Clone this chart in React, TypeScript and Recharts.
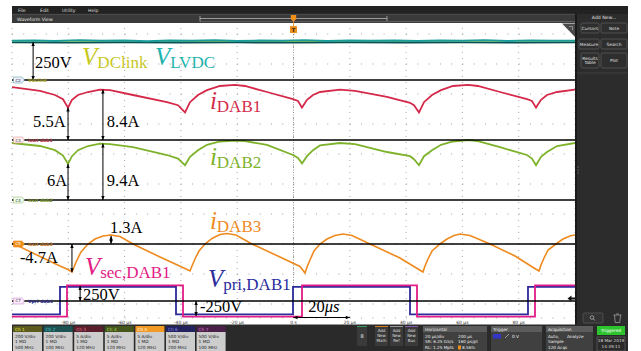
import React from 'react';
import { ComposedChart, Line, XAxis, YAxis, CartesianGrid, ReferenceLine, ReferenceDot } from 'recharts';

// ---------------- data (time in µs, values in channel units) ----------------
const TIME_TICKS = [-80, -60, -40, -20, 0, 20, 40, 60, 80];
const TIME_LABELS: Record<number, string> = {
  [-80]: '-80 µs', [-60]: '-60 µs', [-40]: '-40 µs', [-20]: '-20 µs', 0: '0 s',
  20: '20 µs', 40: '40 µs', 60: '60 µs', 80: '80 µs',
};
const I3_TICKS = [-10, -5, 0, 5, 10, 15, 20, 25, 30, 35];

const vLvdc: [number, number][] = [
  [-100, 262], [-92, 264], [-85, 260], [-76, 265], [-68, 261], [-60, 263], [-52, 259], [-44, 264],
  [-36, 261], [-28, 265], [-20, 260], [-12, 263], [-4, 261], [4, 265], [12, 260], [20, 263],
  [28, 261], [36, 264], [44, 260], [52, 263], [60, 261], [68, 265], [76, 260], [84, 263], [92, 261], [100, 262],
];
const vLvdcLow: [number, number][] = [
  [-100, 250], [-80, 248], [-60, 251], [-40, 249], [-20, 250], [0, 248], [20, 251], [40, 249], [60, 250], [80, 248], [100, 250],
];
const vDclink: [number, number][] = [
  [-100, 255], [-50, 254], [0, 256], [50, 254], [100, 255],
];

const iDab1: [number, number][] = [
  [-100, 8.8], [-90.05, 8.2], [-84.72, 7.5], [-81.88, 6.8], [-80.11, 5.4], [-78.69, 6.7], [-76.55, 7.5],
  [-73.0, 8.0], [-68.74, 8.4], [-65.19, 8.3], [-57.02, 7.5], [-44.94, 6.3], [-41.03, 5.8], [-38.54, 4.6],
  [-36.77, 6.3], [-33.93, 7.5], [-30.73, 8.3], [-26.11, 9.0], [-20.78, 9.2], [-17.23, 9.0], [-9.41, 8.0],
  [-0.18, 6.8], [1.6, 6.5], [3.02, 5.4], [4.8, 6.7], [6.93, 7.5], [9.41, 8.0], [16.52, 8.4], [21.85, 8.2],
  [33.21, 7.2], [41.39, 6.2], [42.81, 5.8], [44.58, 4.6], [46.36, 6.3], [49.2, 7.5], [52.4, 8.3],
  [56.66, 9.0], [62.0, 9.2], [65.5, 9.0], [73.36, 8.0], [82.95, 6.8], [84.72, 6.5], [86.15, 5.4],
  [87.92, 6.7], [90.05, 7.5], [93.61, 8.0], [100, 8.4],
];

const iDab2: [number, number][] = [
  [-100, 9.5], [-90.05, 9.0], [-84.72, 8.3], [-81.88, 7.4], [-80.11, 6.0], [-78.69, 7.3], [-76.55, 8.3],
  [-73.0, 9.0], [-68.74, 9.4], [-65.19, 9.3], [-57.02, 8.8], [-44.94, 7.5], [-41.03, 6.9], [-38.54, 5.8],
  [-36.77, 7.2], [-33.93, 8.3], [-30.73, 9.2], [-26.11, 9.75], [-20.78, 9.9], [-17.23, 9.8], [-9.41, 9.2],
  [-0.18, 7.5], [1.6, 7.0], [3.02, 6.1], [4.8, 7.3], [6.93, 8.3], [9.41, 9.1], [16.52, 9.5], [21.85, 9.3],
  [33.21, 8.0], [41.39, 7.3], [42.81, 6.8], [44.58, 5.8], [46.36, 7.3], [49.2, 8.3], [52.4, 9.2],
  [56.66, 9.75], [62.0, 10.0], [65.5, 9.8], [73.36, 8.8], [82.95, 7.5], [84.72, 6.9], [86.15, 5.8],
  [87.92, 7.2], [90.05, 8.0], [93.61, 9.0], [100, 9.5],
];

const iDab3: [number, number][] = [
  [-100, 0.17], [-90.05, -2.08], [-82.95, -3.67], [-80.11, -4.25], [-78.69, -4.67], [-77.98, -3.83],
  [-76.91, -2.67], [-75.49, -1.33], [-73.0, 0], [-70.52, 0.83], [-67.67, 1.33], [-64.83, 1.5], [-61.63, 1.25],
  [-57.02, 0], [-47.42, -2.17], [-38.54, -4.08], [-36.77, -4.5], [-36.06, -3.67], [-35.0, -2.5], [-33.57, -1.17],
  [-31.44, 0], [-28.95, 0.92], [-26.11, 1.58], [-23.62, 1.75], [-20.43, 1.5], [-14.74, 0], [-4.8, -2.17],
  [2.31, -3.75], [4.09, -4.83], [4.8, -3.83], [5.86, -2.67], [7.28, -1.17], [9.41, 0], [11.9, 0.83],
  [14.74, 1.42], [17.58, 1.67], [20.78, 1.42], [27.18, 0], [37.83, -2.33], [44.23, -4.17], [46.0, -4.67],
  [46.71, -3.67], [47.78, -2.5], [49.2, -1.17], [52.04, 0], [54.53, 0.83], [57.02, 1.42], [59.15, 1.67],
  [62.7, 1.42], [69.8, 0], [78.69, -2.0], [85.44, -4.0], [87.21, -4.5], [87.92, -3.5], [88.99, -2.33],
  [90.41, -1.0], [93.25, 0], [95.74, 0.83], [98.22, 1.33], [100, 1.5],
];

const vPri: [number, number][] = [
  [-100, -222], [-82.95, -222], [-82.95, 236], [-41.74, 236], [-41.74, -222], [-0.18, -222], [-0.18, 236],
  [41.39, 236], [41.39, -222], [83.3, -222], [83.3, 236], [100, 236],
];
const vSec: [number, number][] = [
  [-100, -262], [-80.46, -262], [-80.46, 262], [-39.25, 262], [-39.25, -262], [3.02, -262], [3.02, 262],
  [43.87, 262], [43.87, -262], [85.79, -262], [85.79, 262], [100, 262],
];

// annotation arrows (t, from, to on channel axis)
const ARROWS = [
  { ax: 'dc', t: -92.5, from: 0, to: 253 },
  { ax: 'i1', t: -80.1, from: 0, to: 5.4 },
  { ax: 'i1', t: -67.7, from: 0, to: 8.4 },
  { ax: 'i2', t: -80.1, from: 0, to: 6.0 },
  { ax: 'i2', t: -67.7, from: 0, to: 9.4 },
  { ax: 'i3', t: -64.8, from: 0, to: 1.35 },
  { ax: 'i3', t: -78.7, from: 0, to: -4.7 },
  { ax: 'v', t: -75.8, from: 0, to: 250 },
  { ax: 'v', t: -34.6, from: 0, to: -250 },
];
const TIME_ARROW = { ax: 'v', level: -275, from: 0, to: 20 };

const LABELS = [
  { ax: 'dc', t: -91.8, y: 80, text: '250V' },
  { ax: 'dc', t: -75.1, y: 100, italic: 'V', sub: 'DClink', color: '#c8c81e' },
  { ax: 'dc', t: -49.2, y: 100, italic: 'V', sub: 'LVDC', color: '#22b3ae' },
  { ax: 'i1', t: -29.7, y: 5.17, italic: 'i', sub: 'DAB1', color: '#d5294a' },
  { ax: 'i1', t: -92.5, y: 2.17, text: '5.5A' },
  { ax: 'i1', t: -66.3, y: 2.17, text: '8.4A' },
  { ax: 'i2', t: -29.7, y: 5.83, italic: 'i', sub: 'DAB2', color: '#7db22a' },
  { ax: 'i2', t: -87.6, y: 2.33, text: '6A' },
  { ax: 'i2', t: -66.3, y: 2.33, text: '9.4A' },
  { ax: 'i3', t: -65.2, y: 1.83, text: '1.3A' },
  { ax: 'i3', t: -97.2, y: -3.17, text: '-4.7A' },
  { ax: 'i3', t: -29.7, y: 2.5, italic: 'i', sub: 'DAB3', color: '#ee8a1e' },
  { ax: 'v', t: -74.1, y: 433, italic: 'V', sub: 'sec,DAB1', color: '#e31c86' },
  { ax: 'v', t: -30.4, y: 233, italic: 'V', sub: 'pri,DAB1', color: '#2b2b9e' },
  { ax: 'v', t: -74.8, y: 17, text: '250V' },
  { ax: 'v', t: -33.2, y: -183, text: '-250V' },
  { ax: 'v', t: 5.2, y: -183, text: '20', tail: 'μs' },
];

// channel vertical setup: zero position (divisions from top) and units/div
const CHANNELS: Record<string, { pos: number; perDiv: number }> = {
  dc: { pos: 2.0667, perDiv: 200 },
  i1: { pos: 4.0667, perDiv: 5 },
  i2: { pos: 6.0667, perDiv: 5 },
  i3: { pos: 7.5333, perDiv: 5 },
  v: { pos: 9.4333, perDiv: 500 },
};
const dom = (k: string): [number, number] => {
  const c = CHANNELS[k];
  return [-(10 - c.pos) * c.perDiv, c.pos * c.perDiv];
};

const TAGS = [
  { ax: 'dc', tag: 'C2', name: 'Vdclink', border: '#6aa', bg: '#eef', tc: '#333', nc: '#a9a520' },
  { ax: 'i1', tag: 'C3', name: 'Iout dab1', border: '#d99', bg: '#fee', tc: '#333', nc: '#b03545' },
  { ax: 'i2', tag: 'C4', name: 'Iout dab2', border: '#9b7', bg: '#efe', tc: '#333', nc: '#7a9a30' },
  { ax: 'i3', tag: 'C5', name: 'Iout dab3', border: '#e88a1e', bg: '#f0901c', tc: '#fff', nc: '#b87020' },
  { ax: 'v', tag: 'C7', name: 'Vpri dab1', border: '#c8c', bg: '#fef', tc: '#333', nc: '#2a2a90' },
];

const toRows = (a: [number, number][]) => a.map(([t, v]) => ({ t, v }));

// ---------------- shapes ----------------
const ArrowShape = (p: any) => {
  const { x1, y1, x2, y2 } = p;
  const dx = x2 - x1, dy = y2 - y1;
  const len = Math.hypot(dx, dy) || 1;
  const ux = dx / len, uy = dy / len;
  const h = 4, w = 1.7;
  const head = (x: number, y: number, sx: number, sy: number) =>
    `M${x},${y} L${x - sx * h - sy * w},${y - sy * h + sx * w} L${x - sx * h + sy * w},${y - sy * h - sx * w} Z `;
  return (
    <g>
      <line x1={x1} y1={y1} x2={x2} y2={y2} stroke="#000" strokeWidth={1} />
      <path d={head(x2, y2, ux, uy) + head(x1, y1, -ux, -uy)} fill="#000" />
    </g>
  );
};

const SERIF = "'Liberation Serif', 'Times New Roman', serif";

const TextMark = ({ cx, cy, item }: any) => (
  <text x={cx} y={cy} fontFamily={SERIF} fill={item.color || '#000'} fontSize={16.5}>
    {item.italic ? <tspan fontStyle="italic" fontSize={25}>{item.italic}</tspan> : null}
    {item.sub ? <tspan fontSize={17} dy={3}>{item.sub}</tspan> : null}
    {item.text ? <tspan>{item.text}</tspan> : null}
    {item.tail ? <tspan fontStyle="italic">{item.tail}</tspan> : null}
  </text>
);

const TagMark = ({ cx, cy, item }: any) => (
  <g fontFamily="'DejaVu Sans', sans-serif">
    <path d={`M${cx + 1.5},${cy - 3} H${cx + 10} L${cx + 12.5},${cy} L${cx + 10},${cy + 3} H${cx + 1.5} Z`}
      fill={item.bg} stroke={item.border} strokeWidth={0.6} />
    <text x={cx + 3.5} y={cy + 1.5} fontSize={4} fill={item.tc}>{item.tag}</text>
    <text x={cx + 16} y={cy + 1.6} fontSize={4.6} fill={item.nc} fontWeight="bold">{item.name}</text>
  </g>
);

// ---------------- UI chrome ----------------
const CH_BOXES = [
  { name: 'Ch 1', head: '#5c5a1c', hc: '#ecec50', lines: ['200 V/div', '1 MΩ', '500 MHz'] },
  { name: 'Ch 2', head: '#1d5252', hc: '#55d0cc', lines: ['200 V/div', '1 MΩ', '100 MHz'] },
  { name: 'Ch 3', head: '#5b1e2c', hc: '#e57a90', lines: ['5 A/div', '1 MΩ', '120 MHz'] },
  { name: 'Ch 4', head: '#44561c', hc: '#b8d860', lines: ['5 A/div', '1 MΩ', '120 MHz'] },
  { name: 'Ch 5', head: '#f39a24', hc: '#ffffff', lines: ['5 A/div', '1 MΩ', '120 MHz'] },
  { name: 'Ch 6', head: '#23235e', hc: '#8a8ae8', lines: ['500 V/div', '1 MΩ', '200 MHz'] },
  { name: 'Ch 7', head: '#4b2048', hc: '#d87ac8', lines: ['500 V/div', '1 MΩ', '100 MHz'] },
];

const Btn = ({ x, y, w, h, lines }: any) => (
  <g>
    <rect x={x} y={y} width={w} height={h} rx={1.5} fill="#2e2e2e" stroke="#6a6a6a" strokeWidth={0.6} />
    {lines.map((l: string, i: number) => (
      <text key={i} x={x + w / 2} y={y + h / 2 + 1.6 + (i - (lines.length - 1) / 2) * 4.6} fontSize={4.3}
        fill="#e0e0e0" textAnchor="middle">{l}</text>
    ))}
  </g>
);

const Chrome = () => (
  <svg width={641} height={351} style={{ position: 'absolute', left: 0, top: 0, pointerEvents: 'none' }}
    fontFamily="'DejaVu Sans', sans-serif">
    {/* menu bar */}
    <rect x={12} y={6} width={616} height={8} fill="#222" />
    {[['File', 18], ['Edit', 40], ['Utility', 62], ['Help', 88]].map(([s, x]) => (
      <text key={s as string} x={x as number} y={11.8} fontSize={4.6} fill="#ddd">{s}</text>
    ))}
    {/* waveform view bar */}
    <rect x={12} y={14} width={563} height={9} fill="#3a3a3a" />
    <line x1={12} y1={14.3} x2={575} y2={14.3} stroke="#5e5e5e" strokeWidth={0.6} />
    <text x={17} y={20.6} fontSize={4.6} fill="#e8e8e8">Waveform View</text>
    <path d="M200,16 V21.5 M200,18.5 H387 M387,16 V21" stroke="#c4c4c4" strokeWidth={0.7} fill="none" />
    <line x1={200} y1={21.6} x2={575} y2={21.6} stroke="#8a8a8a" strokeWidth={0.5} />
    {/* trigger marker */}
    <path d="M290.8,15 H296.2 V19 L293.5,22 L290.8,19 Z" fill="#f0901c" />
    <line x1={293.5} y1={22} x2={293.5} y2={26} stroke="#f0901c" strokeWidth={0.8} />
    <rect x={290} y={26} width={7} height={7} fill="#f0901c" rx={0.6} />
    <text x={293.5} y={31.6} fontSize={5.2} fill="#222" textAnchor="middle" fontWeight="bold">T</text>
    {/* corner widget */}
    <path d="M562,23.5 H575 V37 Z" fill="#4a4a4a" />
    <path d="M569,26.5 L572.5,26.5 L572.5,30" stroke="#bbb" strokeWidth={0.6} fill="none" />
    {/* trigger level arrow */}
    <path d="M567.5,298.5 L571.5,295.5 V297.6 H575 V299.4 H571.5 V301.5 Z" fill="#111" />
    {/* right panel */}
    <rect x={575} y={14} width={53} height={312} fill="#2c2c2c" />
    <rect x={575} y={14} width={2} height={312} fill="#1a1a1a" />
    <text x={604} y={19.2} fontSize={4.6} fill="#e0e0e0" textAnchor="middle">Add New...</text>
    <Btn x={581} y={23} w={18} h={10} lines={['Cursors']} />
    <Btn x={601} y={23} w={26} h={10} lines={['Note']} />
    <Btn x={579} y={39} w={20} h={10} lines={['Measure']} />
    <Btn x={601} y={39} w={26} h={10} lines={['Search']} />
    <Btn x={581} y={53} w={18} h={15} lines={['Results', 'Table']} />
    <Btn x={601} y={53} w={26} h={15} lines={['Plot']} />
    <line x1={577} y1={73} x2={628} y2={73} stroke="#444" strokeWidth={0.8} />
    {[167, 170, 173].map((y) => <circle key={y} cx={578} cy={y} r={0.5} fill="#999" />)}
    <rect x={583} y={313} width={20} height={10} rx={1.5} fill="#333" stroke="#666" strokeWidth={0.6} />
    <circle cx={592} cy={317.5} r={1.8} fill="none" stroke="#ccc" strokeWidth={0.6} />
    <line x1={593.3} y1={318.8} x2={595} y2={320.5} stroke="#ccc" strokeWidth={0.7} />
    <path d="M613.5,315 H621.5 M614.5,315 L615.2,322.5 H619.8 L620.5,315 M616,314 H619" stroke="#aaa" strokeWidth={0.7} fill="none" />
    {/* bottom strip */}
    <rect x={12} y={324.5} width={616} height={27} fill="#2a2a2a" />
    {CH_BOXES.map((c, i) => {
      const x = 13 + i * 30.6;
      return (
        <g key={c.name}>
          <rect x={x} y={326} width={29} height={6} fill={c.head} />
          <text x={x + 2} y={330.6} fontSize={4.3} fill={c.hc}>{c.name}</text>
          <rect x={x} y={332} width={29} height={19} fill="#cdcdcd" />
          {c.lines.map((l, j) => (
            <text key={j} x={x + 2} y={337.6 + j * 5.8} fontSize={4.3} fill="#222">{l}</text>
          ))}
        </g>
      );
    })}
    <rect x={357} y={326} width={10} height={20} fill="#3a3a3a" />
    <line x1={357} y1={326.5} x2={367} y2={326.5} stroke="#3c9c5c" strokeWidth={1} />
    <text x={362} y={338} fontSize={5} fill="#eee" textAnchor="middle">8</text>
    {[['Math', 375, '#d08020'], ['Ref', 390, '#999'], ['Bus', 405, '#8a5ab0']].map(([s, x, c]) => (
      <g key={s as string}>
        <rect x={x as number} y={326} width={13} height={20} fill="#3a3a3a" />
        <line x1={x as number} y1={326.5} x2={(x as number) + 13} y2={326.5} stroke={c as string} strokeWidth={1} />
        {['Add', 'New', s as string].map((l, j) => (
          <text key={j} x={(x as number) + 6.5} y={332 + j * 4.8} fontSize={4} fill="#ddd" textAnchor="middle">{l}</text>
        ))}
      </g>
    ))}
    {/* horizontal */}
    <rect x={423} y={326} width={64} height={25} fill="#404040" />
    <rect x={423} y={326} width={64} height={6} fill="#5c5c5c" />
    <text x={425} y={330.6} fontSize={4.3} fill="#eee">Horizontal</text>
    <text x={425} y={337.5} fontSize={4.2} fill="#eee">20 µs/div</text>
    <text x={458} y={337.5} fontSize={4.2} fill="#eee">200 µs</text>
    <text x={425} y={343.3} fontSize={4.2} fill="#eee">SR: 6.25 GS/s</text>
    <text x={458} y={343.3} fontSize={4.2} fill="#eee">160 ps/pt</text>
    <text x={425} y={349.1} fontSize={4.2} fill="#eee">RL: 1.25 Mpts</text>
    <rect x={458} y={345.5} width={3} height={4} fill="#f0901c" />
    <text x={462} y={349.1} fontSize={4.2} fill="#eee">8.56%</text>
    {/* trigger */}
    <rect x={491} y={326} width={51} height={25} fill="#404040" />
    <rect x={491} y={326} width={51} height={6} fill="#5c5c5c" />
    <text x={493} y={330.6} fontSize={4.3} fill="#eee">Trigger</text>
    <rect x={493} y={334} width={8} height={4.5} fill="#3535c8" />
    <path d="M505,338 L509,334" stroke="#ddd" strokeWidth={0.6} />
    <text x={512} y={338} fontSize={4.3} fill="#eee">0 V</text>
    {/* acquisition */}
    <rect x={546} y={326} width={47} height={25} fill="#404040" />
    <rect x={546} y={326} width={47} height={6} fill="#5c5c5c" />
    <text x={548} y={330.6} fontSize={4.3} fill="#eee">Acquisition</text>
    <text x={548} y={337.5} fontSize={4.2} fill="#eee">Auto,</text>
    <text x={567} y={337.5} fontSize={4.2} fill="#eee">Analyze</text>
    <text x={548} y={343.3} fontSize={4.2} fill="#eee">Sample</text>
    <text x={548} y={349.1} fontSize={4.2} fill="#eee">120 Acqs</text>
    {/* triggered */}
    <rect x={597} y={326} width={28} height={9} fill="#2ec42e" />
    <text x={611} y={331.8} fontSize={4.3} fill="#fff" textAnchor="middle">Triggered</text>
    <rect x={597} y={337} width={28} height={14} fill="#2a2a2a" stroke="#777" strokeWidth={0.5} />
    <text x={611} y={342.3} fontSize={4.2} fill="#ddd" textAnchor="middle">18 Mar 2019</text>
    <text x={611} y={348} fontSize={4.2} fill="#ddd" textAnchor="middle">14:39:11</text>
  </svg>
);

// ---------------- chart ----------------
export default function App() {
  return (
    <div style={{ position: 'absolute', left: 0, top: 0, width: 641, height: 351, background: '#fff', overflow: 'hidden' }}>
      <ComposedChart width={641} height={351} margin={{ top: 18, right: 66, bottom: 25, left: 12 }}>
        <XAxis type="number" dataKey="t" domain={[-100, 100]} allowDataOverflow ticks={TIME_TICKS}
          tickFormatter={(v: number) => TIME_LABELS[v] ?? ''} height={8} tickSize={0} tickMargin={2.5}
          axisLine={false} tickLine={false} interval={0}
          tick={{ fontSize: 4.5, fill: '#333', fontFamily: "'DejaVu Sans', sans-serif" }} />
        <YAxis yAxisId="dc" type="number" domain={dom('dc')} allowDataOverflow hide />
        <YAxis yAxisId="i1" type="number" domain={dom('i1')} allowDataOverflow hide />
        <YAxis yAxisId="i2" type="number" domain={dom('i2')} allowDataOverflow hide />
        <YAxis yAxisId="v" type="number" domain={dom('v')} allowDataOverflow hide />
        <YAxis yAxisId="i3" type="number" domain={dom('i3')} allowDataOverflow orientation="right" mirror
          width={0} ticks={I3_TICKS} interval={0} tickSize={0} tickMargin={2} axisLine={false} tickLine={false}
          tickFormatter={(v: number) => (v === 35 ? '' : `${v} A`)}
          tick={{ fontSize: 4.3, fill: '#b07a35', fontFamily: "'DejaVu Sans', sans-serif" }} />
        <CartesianGrid yAxisId="i3" vertical={false} stroke="#a0a0a0" strokeDasharray="1 10.26" />
        <CartesianGrid yAxisId="i3" horizontal={false} stroke="#a8a8a8" strokeDasharray="1 5" strokeDashoffset={-4} />
        <ReferenceLine yAxisId="i3" x={0} stroke="#9a9a9a" strokeDasharray="1 1.5" strokeWidth={1} />

        <Line yAxisId="dc" data={toRows(vDclink)} dataKey="v" stroke="#c9c91a" strokeWidth={1.2} dot={false} activeDot={false} isAnimationActive={false} />
        <Line yAxisId="dc" data={toRows(vLvdcLow)} dataKey="v" stroke="#0a4f53" strokeWidth={1.6} dot={false} activeDot={false} isAnimationActive={false} />
        <Line yAxisId="dc" data={toRows(vLvdc)} dataKey="v" stroke="#1a9c9b" strokeWidth={2} dot={false} activeDot={false} isAnimationActive={false} />
        <Line yAxisId="i1" data={toRows(iDab1)} dataKey="v" stroke="#d5294a" strokeWidth={1.8} dot={false} activeDot={false} isAnimationActive={false} />
        <Line yAxisId="i2" data={toRows(iDab2)} dataKey="v" stroke="#7db22a" strokeWidth={1.8} dot={false} activeDot={false} isAnimationActive={false} />
        <Line yAxisId="i3" data={toRows(iDab3)} dataKey="v" stroke="#ee8a1e" strokeWidth={1.6} dot={false} activeDot={false} isAnimationActive={false} />
        <Line yAxisId="v" data={toRows(vPri)} dataKey="v" stroke="#2d2a9c" strokeWidth={1.8} dot={false} activeDot={false} isAnimationActive={false} />
        <Line yAxisId="v" data={toRows(vSec)} dataKey="v" stroke="#e31c86" strokeWidth={1.8} dot={false} activeDot={false} isAnimationActive={false} />

        {Object.keys(CHANNELS).map((k) => (
          <ReferenceLine key={k} yAxisId={k} y={0} stroke="#000" strokeWidth={1.5} />
        ))}
        {ARROWS.map((a, i) => (
          <ReferenceLine key={'a' + i} yAxisId={a.ax} segment={[{ x: a.t, y: a.from }, { x: a.t, y: a.to }]}
            shape={ArrowShape} />
        ))}
        <ReferenceLine yAxisId={TIME_ARROW.ax}
          segment={[{ x: TIME_ARROW.from, y: TIME_ARROW.level }, { x: TIME_ARROW.to, y: TIME_ARROW.level }]}
          shape={ArrowShape} />
        {TAGS.map((g) => (
          <ReferenceDot key={g.tag} yAxisId={g.ax} x={-100} y={0} r={1}
            shape={(p: any) => <TagMark cx={p.cx} cy={p.cy} item={g} />} />
        ))}
        {LABELS.map((l, i) => (
          <ReferenceDot key={'l' + i} yAxisId={l.ax} x={l.t} y={l.y} r={1}
            shape={(p: any) => <TextMark cx={p.cx} cy={p.cy} item={l} />} />
        ))}
      </ComposedChart>
      <Chrome />
    </div>
  );
}
